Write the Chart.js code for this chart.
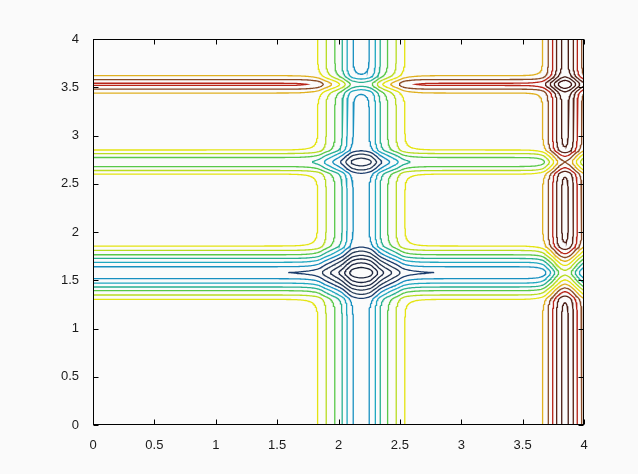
<!DOCTYPE html>
<html lang="en">
<head>
<meta charset="UTF-8">
<title>Contour plot</title>
<script src="https://cdn.jsdelivr.net/npm/chart.js"></script>
<style>
  html, body { margin: 0; padding: 0; background: #fafafa; }
  #wrap { width: 638px; height: 474px; }
</style>
</head>
<body>
<div id="wrap"><canvas id="contourChart" width="638" height="474"></canvas></div>
<script>
// tick labels
const xTickLabels = ['0', '0.5', '1', '1.5', '2', '2.5', '3', '3.5', '4'];
const yTickLabels = ['0', '0.5', '1', '1.5', '2', '2.5', '3', '3.5', '4'];

// vertical bands: centre (x), sign (-1 trough / +1 ridge), peak depth in levels,
// distance from the centre where each level is crossed, decay length of the outer tail
const colCenters = [2.185, 3.845];
const colSigns = [-1, 1];
const colPeaks = [5.85, 4.75];
const colCrossings = [
  [0.355, 0.285, 0.215, 0.155, 0.115, 0.065],
  [0.182, 0.136, 0.100, 0.068, 0.027]
];
const colTails = [0.064, 0.045];

// horizontal bands: centre (y)
const rowCenters = [1.578, 2.725, 3.53];
const rowSigns = [-1, -1, 1];
const rowPeaks = [6.49, 3.25, 2.62];
const rowCrossings = [
  [0.276, 0.231, 0.186, 0.148, 0.108, 0.062],
  [0.125, 0.088, 0.047],
  [0.090, 0.050, 0.012]
];
const rowTails = [0.05, 0.045, 0.04];

// contour levels and line colours
const lowLevels = [-0.5, -1.5, -2.5, -3.5, -4.5, -5.5, -6.5, -7.5, -8.5, -9.5, -10.5, -11.5, -12.5];
const lowColors = ['#e4e410', '#b8dc20', '#58c848', '#28b090', '#20a8c0', '#1890c0', '#1c3c6c',
                   '#283c58', '#243450', '#202c48', '#1c2440', '#182038', '#101a60'];
const highLevels = [0.5, 1.5, 2.5, 3.5, 4.5, 5.5, 6.5, 7.5, 8.5];
const highColors = ['#e0b020', '#8a4a24', '#b82418', '#5a2418', '#4a1c14', '#441a14', '#401414', '#3a1010', '#300c0c'];

// ---- profile of one band: monotone cubic through the crossings, exponential tail outside ----
function bandProfile(peak, crossings, tail) {
  const n = crossings.length;
  const xk = [0], yk = [peak];
  for (let k = n - 1; k >= 0; k--) { xk.push(crossings[k]); yk.push(k + 0.5); }
  const m = xk.length, h = [], s = [], d = new Array(m).fill(0);
  for (let i = 0; i < m - 1; i++) { h[i] = xk[i + 1] - xk[i]; s[i] = (yk[i + 1] - yk[i]) / h[i]; }
  for (let i = 1; i < m - 1; i++) {
    if (s[i - 1] * s[i] > 0) {
      d[i] = 3 * (h[i - 1] + h[i]) / ((2 * h[i] + h[i - 1]) / s[i - 1] + (h[i] + 2 * h[i - 1]) / s[i]);
    }
  }
  d[m - 1] = Math.max(-0.5 / tail, 3 * s[m - 2]);
  const edge = xk[m - 1];
  return function (dist) {
    dist = Math.abs(dist);
    if (dist >= edge) return 0.5 * Math.exp(-(dist - edge) / tail);
    let i = 0;
    while (dist > xk[i + 1]) i++;
    const t = (dist - xk[i]) / h[i], t2 = t * t, t3 = t2 * t;
    return (2 * t3 - 3 * t2 + 1) * yk[i] + (t3 - 2 * t2 + t) * h[i] * d[i] +
           (-2 * t3 + 3 * t2) * yk[i + 1] + (t3 - t2) * h[i] * d[i + 1];
  };
}

// ---- grid ----
const step = 0.01;
const nx = 401, ny = 401;
const gx = [], gy = [];
for (let i = 0; i < nx; i++) gx.push(i * step);
for (let j = 0; j < ny; j++) gy.push(j * step);

const colFns = colCenters.map((c, b) => bandProfile(colPeaks[b], colCrossings[b], colTails[b]));
const rowFns = rowCenters.map((c, b) => bandProfile(rowPeaks[b], rowCrossings[b], rowTails[b]));
const ax = gx.map(x => colCenters.reduce((acc, c, b) => acc + colSigns[b] * colFns[b](x - c), 0));
const by = gy.map(y => rowCenters.reduce((acc, c, b) => acc + rowSigns[b] * rowFns[b](y - c), 0));
const field = new Float64Array(nx * ny);
for (let j = 0; j < ny; j++) for (let i = 0; i < nx; i++) field[j * nx + i] = ax[i] + by[j];

// ---- marching squares, segments chained into polylines ----
function contourLines(L) {
  const H = nx * ny;
  const segs = [];
  const pts = new Map();
  const adj = new Map();
  function edgeKey(i, j, e) {
    if (e === 0) return j * nx + i;
    if (e === 1) return H + j * nx + i + 1;
    if (e === 2) return (j + 1) * nx + i;
    return H + j * nx + i;
  }
  function edgePoint(i, j, e) {
    let a, b, xa, ya, xb, yb;
    if (e === 0) { a = field[j * nx + i]; b = field[j * nx + i + 1]; xa = gx[i]; ya = gy[j]; xb = gx[i + 1]; yb = gy[j]; }
    else if (e === 1) { a = field[j * nx + i + 1]; b = field[(j + 1) * nx + i + 1]; xa = gx[i + 1]; ya = gy[j]; xb = gx[i + 1]; yb = gy[j + 1]; }
    else if (e === 2) { a = field[(j + 1) * nx + i]; b = field[(j + 1) * nx + i + 1]; xa = gx[i]; ya = gy[j + 1]; xb = gx[i + 1]; yb = gy[j + 1]; }
    else { a = field[j * nx + i]; b = field[(j + 1) * nx + i]; xa = gx[i]; ya = gy[j]; xb = gx[i]; yb = gy[j + 1]; }
    const t = (L - a) / (b - a);
    return { x: xa + t * (xb - xa), y: ya + t * (yb - ya) };
  }
  function add(i, j, e1, e2) {
    const k1 = edgeKey(i, j, e1), k2 = edgeKey(i, j, e2);
    if (!pts.has(k1)) pts.set(k1, edgePoint(i, j, e1));
    if (!pts.has(k2)) pts.set(k2, edgePoint(i, j, e2));
    const id = segs.length;
    segs.push([k1, k2]);
    if (!adj.has(k1)) adj.set(k1, []);
    if (!adj.has(k2)) adj.set(k2, []);
    adj.get(k1).push(id); adj.get(k2).push(id);
  }
  for (let j = 0; j < ny - 1; j++) {
    for (let i = 0; i < nx - 1; i++) {
      const v0 = field[j * nx + i], v1 = field[j * nx + i + 1];
      const v2 = field[(j + 1) * nx + i + 1], v3 = field[(j + 1) * nx + i];
      const c = (v0 > L ? 1 : 0) | (v1 > L ? 2 : 0) | (v2 > L ? 4 : 0) | (v3 > L ? 8 : 0);
      if (c === 0 || c === 15) continue;
      const mid = (v0 + v1 + v2 + v3) / 4 > L;
      switch (c) {
        case 1: case 14: add(i, j, 3, 0); break;
        case 2: case 13: add(i, j, 0, 1); break;
        case 3: case 12: add(i, j, 3, 1); break;
        case 4: case 11: add(i, j, 1, 2); break;
        case 6: case 9: add(i, j, 0, 2); break;
        case 7: case 8: add(i, j, 3, 2); break;
        case 5:
          if (mid) { add(i, j, 0, 1); add(i, j, 3, 2); } else { add(i, j, 3, 0); add(i, j, 1, 2); }
          break;
        case 10:
          if (mid) { add(i, j, 3, 0); add(i, j, 1, 2); } else { add(i, j, 0, 1); add(i, j, 2, 3); }
          break;
      }
    }
  }
  const used = new Uint8Array(segs.length);
  const lines = [];
  function walk(start) {
    const out = [];
    let cur = start;
    while (true) {
      const list = adj.get(cur);
      let nxt = -1;
      for (const t of list) if (!used[t]) { nxt = t; break; }
      if (nxt < 0) break;
      used[nxt] = 1;
      const [p, q] = segs[nxt];
      cur = p === cur ? q : p;
      out.push(cur);
    }
    return out;
  }
  for (let s = 0; s < segs.length; s++) {
    if (used[s]) continue;
    used[s] = 1;
    const [a, b] = segs[s];
    const fwd = walk(b);
    const back = walk(a);
    const keys = back.reverse().concat([a, b], fwd);
    lines.push(keys.map(k => pts.get(k)));
  }
  return lines;
}

const datasets = [];
function addLevel(L, color) {
  contourLines(L).forEach(line => {
    datasets.push({
      data: line,
      showLine: true,
      borderColor: color,
      borderWidth: 1.3,
      pointRadius: 0,
      fill: false,
      tension: 0
    });
  });
}
lowLevels.forEach((L, k) => addLevel(L, lowColors[k]));
highLevels.forEach((L, k) => addLevel(L, highColors[k]));

// box and inward tick marks on all four sides
const framePlugin = {
  id: 'frame',
  beforeDraw(chart) {
    const { ctx, chartArea: a } = chart;
    ctx.save();
    ctx.fillStyle = '#fbfbfb';
    ctx.fillRect(a.left, a.top, a.right - a.left, a.bottom - a.top);
    ctx.restore();
  },
  afterDatasetsDraw(chart) {
    const { ctx, chartArea: a, scales } = chart;
    const len = 5;
    ctx.save();
    ctx.strokeStyle = '#000';
    ctx.lineWidth = 1;
    const l = Math.round(a.left) + 0.5, r = Math.round(a.right) - 0.5;
    const t = Math.round(a.top) + 0.5, b = Math.round(a.bottom) - 0.5;
    ctx.strokeRect(l, t, r - l, b - t);
    ctx.beginPath();
    xTickLabels.forEach(v => {
      const px = Math.round(scales.x.getPixelForValue(parseFloat(v))) + 0.5;
      ctx.moveTo(px, b); ctx.lineTo(px, b - len);
      ctx.moveTo(px, t); ctx.lineTo(px, t + len);
    });
    yTickLabels.forEach(v => {
      const py = Math.round(scales.y.getPixelForValue(parseFloat(v))) + 0.5;
      ctx.moveTo(l, py); ctx.lineTo(l + len, py);
      ctx.moveTo(r, py); ctx.lineTo(r - len, py);
    });
    ctx.stroke();
    ctx.restore();
  }
};

const ctx = document.getElementById('contourChart').getContext('2d');
new Chart(ctx, {
  type: 'scatter',
  data: { datasets: datasets },
  options: {
    responsive: false,
    animation: false,
    events: [],
    layout: { padding: { left: 0, top: 39, right: 54, bottom: 0 } },
    plugins: { legend: { display: false }, tooltip: { enabled: false } },
    scales: {
      x: {
        type: 'linear', min: 0, max: 4,
        grid: { display: false },
        border: { display: false },
        afterFit: s => { s.height = 49; },
        ticks: {
          stepSize: 0.5, autoSkip: false, maxRotation: 0, padding: 5,
          color: '#1a1a1a', font: { family: 'Liberation Sans, Arial, sans-serif', size: 13 },
          callback: v => xTickLabels[Math.round(v * 2)]
        }
      },
      y: {
        type: 'linear', min: 0, max: 4,
        grid: { display: false },
        border: { display: false },
        afterFit: s => { s.width = 93; },
        ticks: {
          stepSize: 0.5, autoSkip: false, padding: 6,
          color: '#1a1a1a', font: { family: 'Liberation Sans, Arial, sans-serif', size: 13 },
          callback: v => yTickLabels[Math.round(v * 2)]
        }
      }
    }
  },
  plugins: [framePlugin]
});
</script>
</body>
</html>
